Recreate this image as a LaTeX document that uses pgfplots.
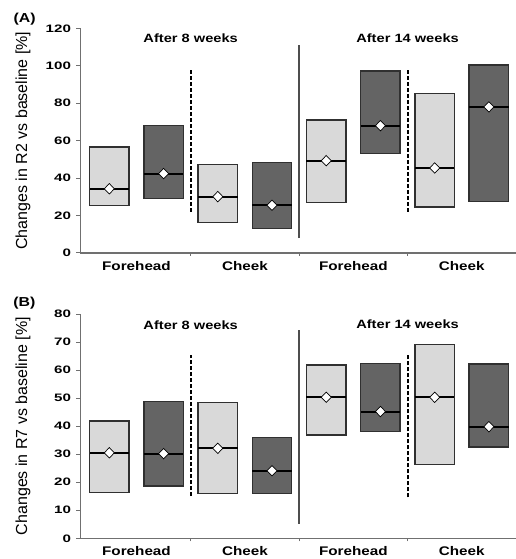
\documentclass[border=0pt]{standalone}
\usepackage{pgfplots}
\pgfplotsset{compat=1.18}
\usepgfplotslibrary{statistics}
\usepackage{fontspec}
\setmainfont{Liberation Sans}
\newfontfamily\wideA[FakeStretch=1.22]{Liberation Sans}
\newfontfamily\wideB[FakeStretch=1.4]{Liberation Sans}
\definecolor{lightbar}{HTML}{D9D9D9}
\definecolor{darkbar}{HTML}{646464}
\definecolor{edgecol}{HTML}{303030}
\definecolor{axcol}{HTML}{707070}
\pgfplotsset{
  panel/.style={
    scale only axis, width=435.5pt, anchor=south west,
    xmin=-0.516, xmax=3.5, ymin=0,
    axis lines=left, axis line style={-, draw=axcol, line width=1.2pt},
    xtick={0,1,2,3}, xticklabels={Forehead,Cheek,Forehead,Cheek},
    minor xtick={0.5,1.5,2.5}, minor tick length=3pt,
    major x tick style={draw=none},
    tick align=outside, major tick length=4pt,
    tick style={draw=axcol, line width=1pt},
    xticklabel style={font=\wideA\bfseries\fontsize{12.5}{14}\selectfont, yshift=-1pt},
    yticklabel style={font=\wideB\bfseries\fontsize{10.8}{12}\selectfont, xshift=-2pt},
    /pgf/number format/assume math mode=true,
    every axis y label/.style={at={(axis description cs:-0.132,0.5)}, rotate=90, anchor=center, font=\fontsize{16}{18}\selectfont},
    boxplot/draw direction=y,
    boxplot/box extend=0.364,
    boxplot/whisker extend=0,
    boxplot/every box/.style={draw=edgecol, line width=1.4pt},
    boxplot/every median/.style={draw=black, line width=1.9pt},
    boxplot/every whisker/.style={draw=none},
  },
  lb/.style={boxplot prepared, fill=lightbar, draw=edgecol, line width=1.4pt},
  db/.style={boxplot prepared, fill=darkbar, draw=edgecol, line width=1.4pt},
  dash/.style={black, line width=2.1pt, dash pattern=on 4pt off 2pt},
  meanmark/.style={only marks, mark=diamond*, mark size=5.2pt,
    mark options={fill=white, draw=black, line width=0.7pt, xscale=1.3}},
}
\begin{document}
\begin{tikzpicture}
\useasboundingbox (0,0) rectangle (516pt,559pt);
% ---------- Panel A ----------
\begin{axis}[panel, at={(80.5pt,306pt)}, height=224.7pt, ymax=120,
  ytick={0,20,...,120}, ylabel={Changes in R2 vs baseline [\%]}]
\addplot[lb, boxplot prepared={draw position=-0.25, lower whisker=25.3, lower quartile=25.3, median=34.3, upper quartile=56.6, upper whisker=56.6}] coordinates {};
\addplot[db, boxplot prepared={draw position=0.25, lower whisker=29, lower quartile=29, median=42.4, upper quartile=68.2, upper whisker=68.2}] coordinates {};
\addplot[lb, boxplot prepared={draw position=0.75, lower whisker=16.2, lower quartile=16.2, median=30.1, upper quartile=47.4, upper whisker=47.4}] coordinates {};
\addplot[db, boxplot prepared={draw position=1.25, lower whisker=13.2, lower quartile=13.2, median=25.5, upper quartile=48.4, upper whisker=48.4}] coordinates {};
\addplot[lb, boxplot prepared={draw position=1.75, lower whisker=26.9, lower quartile=26.9, median=49.3, upper quartile=71, upper whisker=71}] coordinates {};
\addplot[db, boxplot prepared={draw position=2.25, lower whisker=53, lower quartile=53, median=68, upper quartile=97.2, upper whisker=97.2}] coordinates {};
\addplot[lb, boxplot prepared={draw position=2.75, lower whisker=24.6, lower quartile=24.6, median=45.4, upper quartile=85.3, upper whisker=85.3}] coordinates {};
\addplot[db, boxplot prepared={draw position=3.25, lower whisker=27.4, lower quartile=27.4, median=78, upper quartile=100.4, upper whisker=100.4}] coordinates {};
\addplot[meanmark] coordinates {(-0.25,34.3) (0.25,42.4) (0.75,30.1) (1.25,25.5) (1.75,49.3) (2.25,68) (2.75,45.4) (3.25,78)};
\addplot[dash] coordinates {(0.5,22) (0.5,98)};
\addplot[dash] coordinates {(2.5,22) (2.5,98)};
\addplot[axcol!70!black, line width=1.3pt] coordinates {(1.5,8) (1.5,111)};
\node[font=\wideA\bfseries\fontsize{12}{14}\selectfont] at (axis cs:0.5,114.8) {After 8 weeks};
\node[font=\wideA\bfseries\fontsize{12}{14}\selectfont] at (axis cs:2.5,114.8) {After 14 weeks};
\end{axis}
% ---------- Panel B ----------
\begin{axis}[panel, at={(80.5pt,20.7pt)}, height=224.3pt, ymax=80,
  ytick={0,10,...,80}, ylabel={Changes in R7 vs baseline [\%]}]
\addplot[lb, boxplot prepared={draw position=-0.25, lower whisker=16.4, lower quartile=16.4, median=30.5, upper quartile=41.8, upper whisker=41.8}] coordinates {};
\addplot[db, boxplot prepared={draw position=0.25, lower whisker=18.7, lower quartile=18.7, median=30.2, upper quartile=48.7, upper whisker=48.7}] coordinates {};
\addplot[lb, boxplot prepared={draw position=0.75, lower whisker=16, lower quartile=16, median=32.1, upper quartile=48.5, upper whisker=48.5}] coordinates {};
\addplot[db, boxplot prepared={draw position=1.25, lower whisker=16, lower quartile=16, median=24.1, upper quartile=35.9, upper whisker=35.9}] coordinates {};
\addplot[lb, boxplot prepared={draw position=1.75, lower whisker=36.8, lower quartile=36.8, median=50.3, upper quartile=61.8, upper whisker=61.8}] coordinates {};
\addplot[db, boxplot prepared={draw position=2.25, lower whisker=38, lower quartile=38, median=45.2, upper quartile=62.3, upper whisker=62.3}] coordinates {};
\addplot[lb, boxplot prepared={draw position=2.75, lower whisker=26.4, lower quartile=26.4, median=50.3, upper quartile=69.2, upper whisker=69.2}] coordinates {};
\addplot[db, boxplot prepared={draw position=3.25, lower whisker=32.6, lower quartile=32.6, median=39.8, upper quartile=62.2, upper whisker=62.2}] coordinates {};
\addplot[meanmark] coordinates {(-0.25,30.5) (0.25,30.2) (0.75,32.1) (1.25,24.1) (1.75,50.3) (2.25,45.2) (2.75,50.3) (3.25,39.8)};
\addplot[dash] coordinates {(0.5,15) (0.5,65.4)};
\addplot[dash] coordinates {(2.5,14.6) (2.5,65.7)};
\addplot[axcol!70!black, line width=1.3pt] coordinates {(1.5,5.1) (1.5,74.3)};
\node[font=\wideA\bfseries\fontsize{12}{14}\selectfont] at (axis cs:0.5,76) {After 8 weeks};
\node[font=\wideA\bfseries\fontsize{12}{14}\selectfont] at (axis cs:2.5,76.5) {After 14 weeks};
\end{axis}
\node[font=\wideA\bfseries\fontsize{13}{15}\selectfont] at (24.7pt,539.8pt) {(A)};
\node[font=\wideA\bfseries\fontsize{13}{15}\selectfont] at (24.3pt,255.7pt) {(B)};
\end{tikzpicture}
\end{document}
